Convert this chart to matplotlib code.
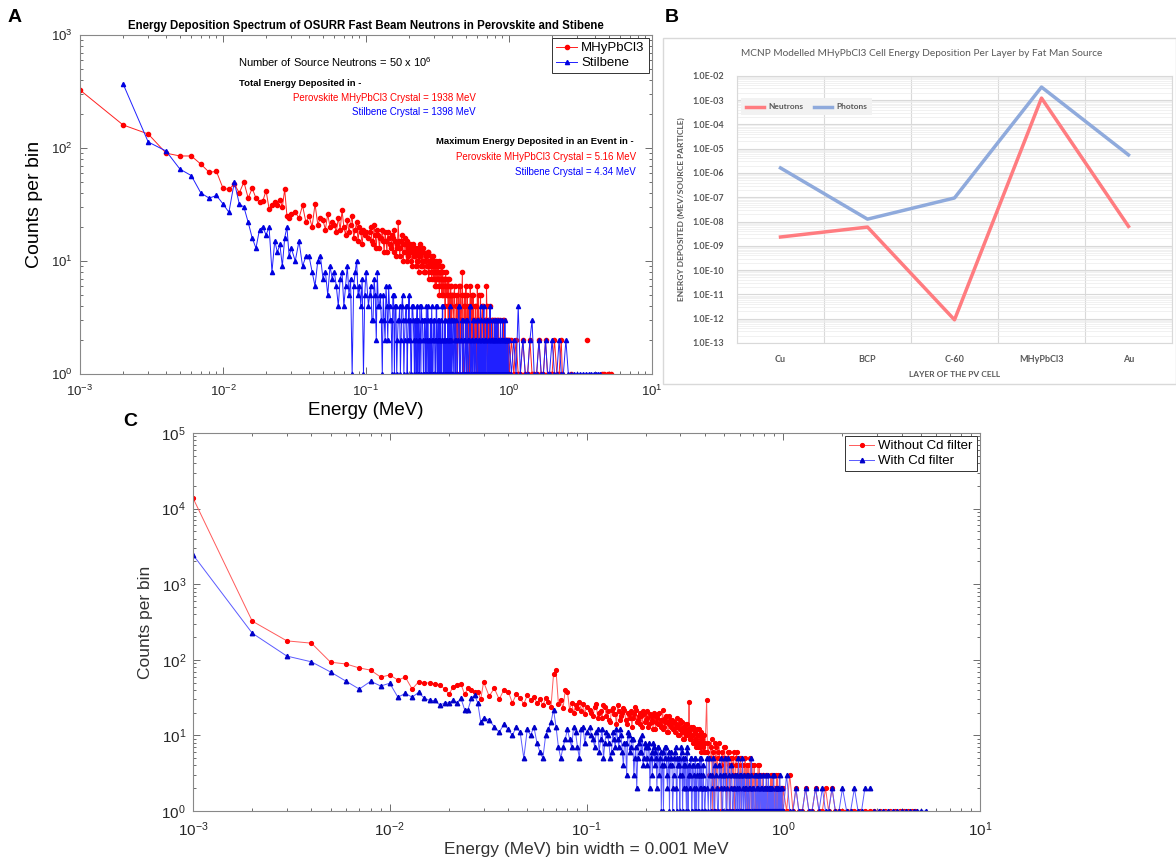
import numpy as np
import matplotlib.pyplot as plt
from matplotlib.patches import Rectangle
from matplotlib.ticker import LogLocator, NullFormatter, FixedLocator, FuncFormatter

plt.rcParams['font.family'] = ['Liberation Sans', 'DejaVu Sans']
plt.rcParams['mathtext.default'] = 'regular'
plt.rcParams['axes.unicode_minus'] = False

# ---------------- Panel A: OSURR fast beam, counts per 0.001 MeV bin ----------------
# bins 0.001-0.030 MeV (every bin)
a_red_low = [326, 160, 133, 90, 85, 85, 72, 61, 62, 44, 43, 48, 40, 50, 36, 44, 36, 33, 34, 42,
             29, 31, 33, 31, 35, 30, 43, 25, 24, 26]
# 0.032-0.100 MeV (every 2nd bin)
a_red_mid = [27, 24, 31, 22, 25, 20, 32, 21, 24, 23, 19, 26, 20, 22, 21, 18, 24, 19, 28, 20,
             17, 23, 18, 21, 25, 16, 19, 22, 15, 20, 18, 14, 19, 17, 18]
# 0.104-0.400 MeV (every 4th bin) and the bins 2 keV further on
a_red_hi = [16, 20, 14, 17, 19, 13, 16, 15, 18, 12, 16, 14, 17, 12, 15, 13, 22, 11, 15, 14,
            12, 16, 10, 13, 12, 14, 10, 12, 11, 13, 9, 12, 10, 11, 14, 9, 10, 12, 8, 10,
            11, 9, 12, 8, 10, 9, 7, 11, 8, 9, 6, 10, 8, 7, 9, 6, 8, 7, 9, 5,
            8, 6, 7, 4, 8, 6, 5, 7, 1, 6, 5, 1, 6, 4, 5]
a_red_hi2 = [18, 15, 21, 13, 17, 16, 19, 12, 15, 18, 14, 13, 16, 19, 11, 14, 15, 13, 17, 10,
             14, 12, 15, 11, 13, 12, 9, 14, 11, 12, 10, 13, 8, 11, 12, 9, 13, 10, 8, 11,
             9, 12, 7, 10, 9, 11, 8, 10, 7, 9, 8, 6, 9, 7, 10, 5, 8, 6, 7, 9,
             5, 7, 6, 1, 7, 5, 6, 4, 7, 1, 5, 6, 3, 5]
# 0.408-1.000 MeV (every 8th bin) and the bins 4 keV further on
a_red_top = [3, 6, 1, 5, 4, 2, 6, 3, 8, 1, 5, 4, 2, 5, 3, 1, 6, 4, 2, 5,
             3, 1, 4, 3, 6, 1, 3, 2, 5, 1, 3, 4, 2, 1, 3, 2, 6, 1, 3, 2,
             1, 4, 2, 1, 3, 2, 1, 2, 3, 1, 2, 1, 3, 1, 2, 1, 2, 1, 3, 1,
             2, 1, 1, 2, 1, 3, 1, 2, 1, 1, 2, 1, 1, 2, 1]
a_red_top2 = [5, 2, 4, 1, 6, 3, 2, 5, 1, 4, 3, 6, 1, 2, 4, 3, 1, 5, 2, 3,
              1, 4, 2, 1, 3, 5, 1, 2, 3, 1, 4, 2, 1, 3, 1, 2, 4, 1, 2, 3,
              1, 2, 1, 3, 1, 2, 1, 3, 1, 2, 1, 1, 2, 1, 3, 1, 1, 2, 1, 1,
              2, 1, 3, 1, 1, 2, 1, 1, 2, 1, 1, 2, 1, 1]
a_red_tail_e = [1.04, 1.08, 1.12, 1.16, 1.20, 1.25, 1.30, 1.35, 1.40, 1.45, 1.50, 1.56, 1.62, 1.68,
                1.74, 1.80, 1.86, 1.92, 2.00, 2.08, 2.16, 2.24, 2.32, 2.36, 2.40, 2.70, 2.75, 3.50,
                3.55, 4.45, 4.50, 4.62, 4.65, 4.95, 5.00, 5.16]
a_red_tail_c = [2, 1, 2, 1, 1, 2, 1, 1, 2, 1, 1, 1, 2, 1, 1, 2, 1, 1, 1, 2, 1, 1, 2, 1, 0, 1, 0, 2,
                0, 1, 0, 1, 0, 1, 0, 1]

a_blue_low = [0, 370, 113, 94, 65, 57, 40, 36, 38, 32, 27, 50, 32, 30, 22, 16, 13, 19, 20, 17,
              20, 8, 15, 12, 14, 9, 16, 20, 11, 13]
a_blue_mid = [10, 15, 9, 11, 11, 8, 6, 10, 11, 7, 8, 5, 9, 7, 8, 6, 4, 7, 8, 4,
              6, 9, 5, 7, 1, 6, 8, 10, 5, 6, 4, 7, 1, 5, 8]
a_blue_hi = [4, 6, 3, 5, 8, 4, 3, 5, 2, 4, 6, 3, 1, 5, 4, 1, 3, 4, 2, 5,
             1, 3, 4, 2, 5, 3, 1, 4, 2, 3, 1, 4, 3, 1, 2, 4, 3, 1, 3, 2,
             4, 1, 3, 2, 1, 3, 4, 1, 2, 3, 1, 2, 4, 1, 3, 2, 1, 3, 1, 2,
             4, 1, 2, 3, 1, 2, 1, 3, 1, 2, 4, 1, 2, 1, 3]
a_blue_hi2 = [5, 3, 7, 2, 4, 5, 1, 3, 6, 2, 4, 3, 5, 1, 4, 2, 3, 1, 4, 3,
              2, 4, 1, 3, 2, 1, 4, 3, 1, 2, 3, 1, 2, 4, 1, 3, 2, 1, 3, 1,
              2, 4, 1, 2, 3, 1, 2, 1, 3, 2, 1, 4, 1, 2, 1, 3, 2, 1, 2, 4,
              1, 2, 1, 3, 1, 2, 1, 1, 3, 1, 2, 1, 3, 1]
a_blue_top = [1, 2, 3, 1, 2, 4, 1, 2, 1, 3, 1, 2, 1, 3, 1, 2, 4, 1, 2, 1,
              3, 1, 2, 1, 3, 1, 2, 1, 4, 1, 2, 1, 3, 1, 2, 1, 2, 3, 1, 2,
              1, 4, 1, 2, 1, 3, 1, 2, 1, 2, 1, 3, 1, 2, 1, 1, 2, 1, 3, 1,
              2, 1, 1, 2, 1, 1, 3, 1, 2, 1, 1, 2, 1, 1, 2]
a_blue_top2 = [3, 1, 2, 1, 4, 1, 2, 3, 1, 2, 1, 3, 1, 2, 1, 4, 1, 2, 1, 3,
               1, 2, 1, 1, 3, 1, 2, 1, 3, 1, 2, 1, 4, 1, 2, 1, 3, 1, 1, 2,
               1, 3, 1, 2, 1, 1, 2, 1, 3, 1, 2, 1, 1, 3, 1, 2, 1, 1, 2, 1,
               1, 3, 1, 1, 2, 1, 1, 2, 1, 1, 2, 1, 1, 1]
a_blue_tail_e = [1.04, 1.08, 1.12, 1.16, 1.20, 1.25, 1.30, 1.35, 1.40, 1.45, 1.50, 1.56, 1.62, 1.68,
                 1.74, 1.80, 1.86, 1.92, 2.00, 2.08, 2.16, 2.24, 2.32, 2.40, 2.50, 2.60, 2.70, 2.85,
                 3.00, 3.15, 3.30, 3.45, 3.60, 3.75, 3.90, 4.05, 4.20, 4.34]
a_blue_tail_c = [1, 2, 1, 4, 1, 2, 1, 1, 2, 3, 1, 1, 2, 1, 1, 2, 1, 1, 2, 1, 1, 2, 1, 1, 2, 1, 1, 1,
                 1, 1, 1, 1, 1, 1, 1, 1, 1, 1]

# ---------------- Panel B: MCNP energy deposition per layer ----------------
layers = ['Cu', 'BCP', 'C-60', 'MHyPbCl3', 'Au']
neutrons = [2.3e-9, 5.9e-9, 9e-13, 1.2e-3, 6.3e-9]
photons = [1.6e-6, 1.25e-8, 9.3e-8, 3.4e-3, 5.5e-6]

# ---------------- Panel C: with / without Cd filter ----------------
c_red_low = [13800, 325, 178, 166, 93, 88, 78, 73, 59, 63, 54, 59, 41, 51, 50, 49, 48, 47, 41, 35,
             44, 47, 48, 35, 42, 40, 38, 38, 30, 51]
c_red_mid = [33, 42, 30, 40, 38, 27, 35, 31, 26, 34, 29, 32, 27, 30, 25, 31, 28, 24, 65, 73,
             26, 29, 23, 40, 38, 22, 27, 20, 25, 23, 28, 21, 26, 19, 24]
c_red_hi = [22, 18, 26, 20, 17, 24, 21, 15, 23, 19, 25, 16, 20, 22, 14, 19, 21, 17, 24, 15,
            18, 20, 13, 19, 16, 21, 14, 18, 15, 20, 12, 17, 19, 14, 16, 22, 13, 17, 15, 11,
            18, 14, 16, 12, 15, 13, 17, 10, 14, 12, 15, 9, 13, 11, 14, 10, 12, 28, 9, 12,
            10, 13, 8, 11, 9, 12, 7, 10, 8, 11, 6, 9, 7, 10, 6]
c_red_hi2 = [20, 24, 17, 21, 25, 18, 16, 22, 19, 14, 21, 18, 23, 16, 20, 17, 13, 19, 22, 16,
             14, 18, 21, 15, 17, 13, 19, 16, 12, 18, 15, 14, 20, 13, 16, 12, 15, 18, 11, 14,
             16, 13, 12, 15, 11, 14, 13, 10, 16, 12, 11, 13, 9, 12, 10, 14, 11, 9, 13, 10,
             8, 12, 9, 11, 7, 10, 8, 12, 7, 9, 8, 10, 6, 8]
c_red_top = [29, 8, 5, 9, 6, 1, 7, 5, 8, 4, 6, 2, 7, 5, 3, 6, 1, 5, 4, 6,
             2, 5, 3, 4, 1, 5, 3, 4, 2, 5, 1, 3, 4, 2, 5, 1, 3, 2, 4, 1,
             3, 2, 4, 1, 2, 3, 1, 2, 3, 1, 2, 1, 3, 2, 1, 2, 1, 3, 1, 2,
             1, 2, 1, 1, 2, 1, 3, 1, 2, 1, 1, 2, 1, 1, 2]
c_red_top2 = [6, 3, 7, 1, 5, 8, 2, 6, 4, 1, 5, 7, 3, 1, 6, 4, 2, 5, 3, 1,
              4, 6, 2, 3, 5, 1, 4, 2, 3, 1, 4, 2, 1, 3, 2, 4, 1, 3, 2, 1,
              3, 1, 2, 4, 1, 2, 1, 3, 1, 2, 1, 3, 1, 2, 1, 1, 2, 1, 3, 1,
              1, 2, 1, 1, 3, 1, 2, 1, 1, 2, 1, 1, 2, 1]
c_red_tail_e = [1.04, 1.08, 1.12, 1.16, 1.20, 1.25, 1.30, 1.35, 1.40, 1.46, 1.52, 1.58, 1.64, 1.70,
                1.77, 1.84, 1.92, 2.00, 2.10, 2.20, 2.30, 2.45, 2.60, 2.75, 2.90, 3.10, 3.30, 3.50,
                3.70, 3.90, 4.10, 4.30, 4.50, 4.70]
c_red_tail_c = [1, 3, 1, 2, 1, 1, 2, 1, 1, 2, 1, 1, 2, 1, 2, 1, 1, 1, 1, 1, 1, 1, 1, 1, 1, 1, 1, 1,
                1, 1, 1, 1, 1, 1]

c_blue_low = [2450, 225, 112, 94, 69, 52, 41, 52, 45, 49, 32, 36, 32, 37, 31, 29, 29, 25, 27, 27,
              29, 27, 31, 22, 22, 31, 34, 27, 15, 17]
c_blue_mid = [16, 13, 11, 14, 12, 10, 13, 11, 5, 12, 10, 13, 8, 6, 5, 10, 12, 15, 22, 13,
              7, 5, 7, 9, 12, 9, 7, 13, 11, 7, 5, 12, 13, 8, 11]
c_blue_hi = [13, 9, 11, 6, 12, 8, 10, 5, 11, 7, 9, 12, 6, 8, 3, 10, 7, 9, 5, 2,
             8, 6, 10, 5, 7, 4, 8, 5, 3, 7, 6, 2, 7, 5, 1, 6, 4, 7, 3, 5,
             1, 6, 4, 2, 5, 7, 1, 4, 5, 3, 6, 1, 4, 5, 2, 7, 1, 4, 3, 5,
             1, 4, 2, 5, 1, 3, 4, 1, 5, 2, 3, 1, 4, 2, 1]
c_blue_hi2 = [10, 7, 12, 9, 5, 11, 8, 6, 9, 12, 7, 10, 4, 8, 11, 6, 9, 3, 7, 5,
              9, 6, 4, 8, 5, 7, 2, 6, 8, 4, 5, 7, 3, 6, 4, 1, 5, 7, 2, 6,
              4, 5, 1, 3, 6, 2, 5, 4, 1, 7, 3, 5, 2, 4, 1, 6, 3, 2, 5, 1,
              4, 3, 1, 5, 2, 4, 1, 3, 2, 5, 1, 3, 2, 1]
c_blue_top = [5, 1, 3, 2, 5, 1, 3, 1, 4, 2, 1, 3, 5, 1, 2, 3, 1, 4, 1, 2,
              3, 1, 2, 5, 1, 3, 1, 2, 3, 1, 2, 1, 3, 1, 2, 5, 1, 2, 1, 3,
              1, 2, 1, 3, 1, 2, 1, 1, 3, 1, 2, 1, 2, 1, 3, 1, 2, 1, 1, 2,
              1, 3, 1, 1, 2, 1, 1, 2, 1, 3, 1, 1, 2, 1, 1]
c_blue_top2 = [2, 5, 1, 3, 1, 4, 2, 1, 3, 5, 1, 2, 3, 1, 5, 1, 2, 3, 1, 2,
               1, 3, 1, 2, 3, 1, 5, 1, 2, 1, 3, 1, 2, 1, 3, 1, 2, 1, 1, 3,
               1, 2, 1, 1, 3, 1, 2, 1, 1, 2, 1, 3, 1, 1, 2, 1, 1, 2, 1, 1,
               3, 1, 1, 2, 1, 1, 2, 1, 1, 1, 2, 1, 1, 1]
c_blue_tail_e = [1.04, 1.08, 1.12, 1.16, 1.20, 1.25, 1.30, 1.35, 1.40, 1.46, 1.52, 1.58, 1.64, 1.70,
                 1.77, 1.84, 1.92, 2.00, 2.10, 2.20, 2.30, 2.40, 2.50, 2.60, 2.70, 2.75, 2.80, 2.90,
                 3.05, 3.20, 3.40, 3.60, 3.80, 4.00, 4.20, 4.40, 4.60, 4.80, 5.00, 5.30]
c_blue_tail_c = [3, 1, 1, 2, 1, 1, 2, 1, 1, 2, 1, 2, 1, 1, 2, 1, 1, 2, 1, 1, 2, 1, 1, 2, 0, 2, 0, 1,
                 1, 1, 1, 1, 1, 1, 1, 1, 1, 1, 1, 1]


def spectrum(low, mid, hi, hi2, top, top2, tail_e, tail_c):
    # bin grid: 1 keV bins, thinned out at higher energy
    e = np.concatenate([0.001 * np.arange(1, len(low) + 1),
                        0.032 + 0.002 * np.arange(len(mid)),
                        0.104 + 0.004 * np.arange(len(hi)),
                        0.106 + 0.004 * np.arange(len(hi2)),
                        0.408 + 0.008 * np.arange(len(top)),
                        0.412 + 0.008 * np.arange(len(top2)),
                        tail_e])
    c = np.concatenate([low, mid, hi, hi2, top, top2, tail_c]).astype(float)
    order = np.argsort(e, kind='stable')
    e, c = e[order], c[order]
    c[c <= 0] = np.nan  # empty bins are not drawn on the log axis
    return e, c


W, H = 1176, 860
fig = plt.figure(figsize=(W / 100, H / 100), dpi=100)


def box(left, top, right, bottom):
    return [left / W, 1 - bottom / H, (right - left) / W, (bottom - top) / H]


def ftext(x, y, s, **kw):
    fig.text(x / W, 1 - y / H, s, **kw)


def matlab_axes(ax, ylim, fs):
    ax.set_xscale('log')
    ax.set_yscale('log')
    ax.set_xlim(1e-3, 10)
    ax.set_ylim(*ylim)
    for a in (ax.xaxis, ax.yaxis):
        a.set_major_locator(LogLocator(base=10, numticks=12))
        a.set_minor_locator(LogLocator(base=10, subs=np.arange(2, 10), numticks=12))
        a.set_minor_formatter(NullFormatter())
    ax.tick_params(which='both', direction='in', top=True, right=True, color='#555555',
                   labelcolor='#262626', labelsize=fs, width=0.6)
    ax.tick_params(which='major', length=5)
    ax.tick_params(which='minor', length=2.5)
    ax.tick_params(axis='x', pad=7)
    ax.tick_params(axis='y', pad=5)
    for s in ax.spines.values():
        s.set_color('#888888')
        s.set_linewidth(0.8)


# ---------- A ----------
axa = fig.add_axes(box(80, 35, 652, 374))
e, c = spectrum(a_red_low, a_red_mid, a_red_hi, a_red_hi2, a_red_top, a_red_top2,
                a_red_tail_e, a_red_tail_c)
axa.plot(e, c, color='#ff2020', lw=0.7, marker='.', ms=6, mfc='#ff0000', mec='#ff0000',
         label='MHyPbCl3')
e, c = spectrum(a_blue_low, a_blue_mid, a_blue_hi, a_blue_hi2, a_blue_top, a_blue_top2,
                a_blue_tail_e, a_blue_tail_c)
axa.plot(e, c, color='#2020ff', lw=0.7, marker='^', ms=3, mfc='#0000e0', mec='#0000e0',
         label='Stilbene')
matlab_axes(axa, (1, 1000), 9.5)
axa.set_title('Energy Deposition Spectrum of OSURR Fast Beam Neutrons in Perovskite and Stibene',
              fontsize=8.3, fontweight='bold', pad=4)
axa.set_xlabel('Energy (MeV)', fontsize=13.5, labelpad=2)
axa.set_ylabel('Counts per bin', fontsize=14, labelpad=6)
leg = axa.legend(loc='upper right', fontsize=9.5, handlelength=1.6, handletextpad=0.3,
                 borderaxespad=0.25, fancybox=False, framealpha=1, borderpad=0.3, labelspacing=0.2)
leg.get_frame().set_edgecolor('#333333')
leg.get_frame().set_linewidth(0.7)

ftext(335, 62, 'Number of Source Neutrons = 50 x 10$^6$', fontsize=8, ha='center', va='center')
ftext(239, 84, 'Total Energy Deposited in -', fontsize=6.8, fontweight='bold', ha='left', va='center')
ftext(476, 98, 'Perovskite MHyPbCl3 Crystal = 1938 MeV', fontsize=7, color='red', ha='right', va='center')
ftext(476, 112, 'Stilbene Crystal = 1398 MeV', fontsize=7, color='blue', ha='right', va='center')
ftext(634, 142, 'Maximum Energy Deposited in an Event in -', fontsize=6.8, fontweight='bold',
      ha='right', va='center')
ftext(636, 157, 'Perovskite MHyPbCl3 Crystal = 5.16 MeV', fontsize=7, color='red', ha='right', va='center')
ftext(636, 172, 'Stilbene Crystal = 4.34 MeV', fontsize=7, color='blue', ha='right', va='center')

# ---------- B ----------
fig.patches.append(Rectangle((663 / W, 1 - 384 / H), (W - 663) / W, (384 - 38) / H,
                             transform=fig.transFigure, fill=False, edgecolor='#d9d9d9', lw=1))
axb = fig.add_axes(box(737, 75.7, 1172, 343))
xb = np.arange(len(layers))
axb.plot(xb, neutrons, color='#ff7c80', lw=2.5, label='Neutrons')
axb.plot(xb, photons, color='#8faadc', lw=2.5, label='Photons')
axb.set_yscale('log')
axb.set_ylim(1e-13, 1e-2)
axb.set_xlim(-0.5, len(layers) - 0.5)
axb.yaxis.set_major_locator(FixedLocator(10.0 ** np.arange(-13, -1)))
axb.yaxis.set_major_formatter(FuncFormatter(lambda v, p: f'{v:.1E}'))
axb.yaxis.set_minor_locator(LogLocator(base=10, subs=np.arange(2, 10), numticks=20))
axb.yaxis.set_minor_formatter(NullFormatter())
axb.set_xticks(xb)
axb.set_xticklabels(layers)
axb.xaxis.set_minor_locator(FixedLocator(np.arange(-0.5, len(layers), 1)))
axb.grid(which='major', axis='y', color='#d9d9d9', lw=0.8)
axb.grid(which='minor', axis='y', color='#ebebeb', lw=0.5)
axb.grid(which='minor', axis='x', color='#d9d9d9', lw=0.8)
axb.set_axisbelow(True)
axb.tick_params(which='both', length=0, labelcolor='#595959')
axb.tick_params(axis='y', pad=9)
axb.tick_params(axis='x', pad=9)
for lab in axb.get_xticklabels() + axb.get_yticklabels():
    lab.set_fontfamily('Lato')
    lab.set_fontweight('bold')
    lab.set_fontsize(6.5)
for s in axb.spines.values():
    s.set_color('#d9d9d9')
    s.set_linewidth(0.8)
ftext(922, 53, 'MCNP Modelled MHyPbCl3 Cell Energy Deposition Per Layer by Fat Man Source',
      fontsize=7.3, color='#595959', family='Lato', ha='center', va='center')
axb.set_xlabel('LAYER OF THE PV CELL', fontsize=6, color='#595959', family='Lato',
               fontweight='bold', labelpad=5)
axb.set_ylabel('ENERGY DEPOSITED (MEV/SOURCE PARTICLE)', fontsize=6, color='#595959',
               family='Lato', fontweight='bold', labelpad=6)
legb = axb.legend(loc='center left', bbox_to_anchor=(0.0, 0.883), ncol=2,
                  prop={'family': 'Lato', 'weight': 'bold', 'size': 6}, handlelength=2.2,
                  handletextpad=0.5, columnspacing=1.2, fancybox=False, borderpad=0.6,
                  framealpha=1)
legb.get_frame().set_facecolor('#f2f2f2')
legb.get_frame().set_edgecolor('none')
for t in legb.get_texts():
    t.set_color('#595959')

# ---------- C ----------
axc = fig.add_axes(box(193, 433, 980, 811))
e, c = spectrum(c_red_low, c_red_mid, c_red_hi, c_red_hi2, c_red_top, c_red_top2,
                c_red_tail_e, c_red_tail_c)
axc.plot(e, c, color='#ff5a5a', lw=0.7, marker='.', ms=5.5, mfc='#ff0000', mec='#ff0000',
         label='Without Cd filter')
e, c = spectrum(c_blue_low, c_blue_mid, c_blue_hi, c_blue_hi2, c_blue_top, c_blue_top2,
                c_blue_tail_e, c_blue_tail_c)
axc.plot(e, c, color='#5a5aff', lw=0.7, marker='^', ms=3.2, mfc='#0000c8', mec='#0000c8',
         label='With Cd filter')
matlab_axes(axc, (1, 1e5), 11)
axc.set_xlabel('Energy (MeV) bin width = 0.001 MeV', fontsize=12.5, color='#333333', labelpad=2)
axc.set_ylabel('Counts per bin', fontsize=12.5, color='#333333', labelpad=6)
legc = axc.legend(loc='upper right', fontsize=9.5, handlelength=1.9, handletextpad=0.3,
                  borderaxespad=0.25, fancybox=False, framealpha=1, borderpad=0.3, labelspacing=0.2)
legc.get_frame().set_edgecolor('#333333')
legc.get_frame().set_linewidth(0.7)

ftext(15, 17, 'A', fontsize=14, fontweight='bold', ha='center', va='center')
ftext(672, 18, 'B', fontsize=14, fontweight='bold', ha='center', va='center')
ftext(130, 422, 'C', fontsize=14, fontweight='bold', ha='center', va='center')

fig.savefig('out.png', dpi=100)
